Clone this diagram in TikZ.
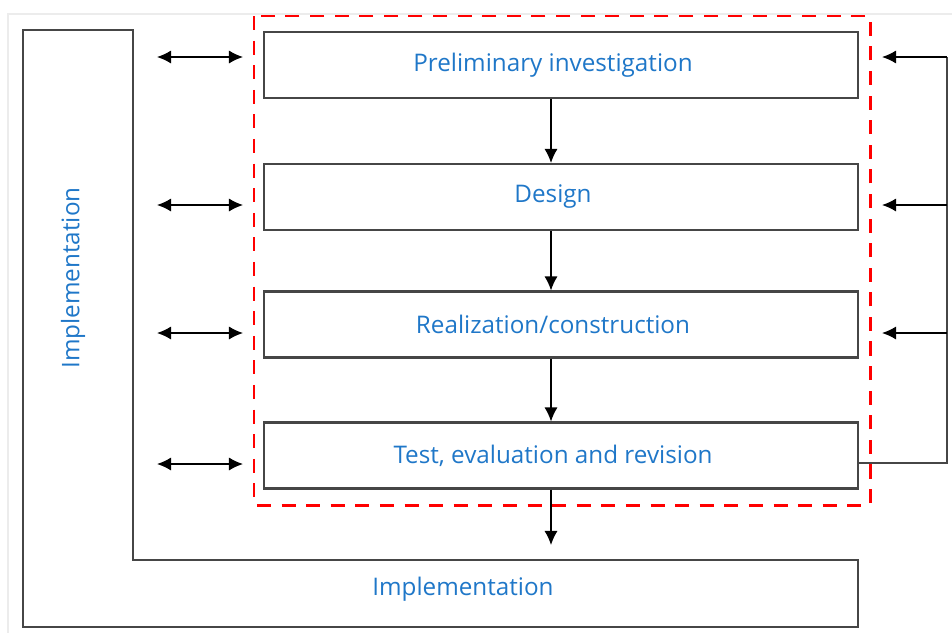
\documentclass[tikz,border=0pt]{standalone}
\usepackage{fontspec}
\setmainfont{Open Sans}
\usetikzlibrary{arrows.meta}
\definecolor{azul}{RGB}{31,119,200}
\definecolor{cinza}{RGB}{70,70,70}
\begin{document}
\begin{tikzpicture}[x=0.02cm, y=-0.02cm,
        etapa/.style={draw=cinza, line width=1.2pt, minimum width=11.88cm,
                      minimum height=1.32cm, inner sep=0pt, text=azul,
                      font=\fontsize{13.8}{16}\selectfont},
        rotulo/.style={text=azul, font=\fontsize{13.8}{16}\selectfont, inner sep=0pt},
        seta/.style={line width=0.8pt, -{Latex[length=8pt,width=7.5pt]}},
        dupla/.style={line width=0.8pt, {Latex[length=8pt,width=7.5pt]}-{Latex[length=8pt,width=7.5pt]}},
        tracejado/.style={draw=red, line width=1.7pt, dash pattern=on 8pt off 6pt},
    ]
    \useasboundingbox (0,0) rectangle (952,633);
    % moldura clara
    \draw[gray!15, line width=0.8pt] (8,633) -- (8,14) -- (952,14);
    % bloco em L da implementacao
    \draw[cinza, line width=1.2pt] (23,30) -- (133,30) -- (133,560) -- (858,560)
        -- (858,627) -- (23,627) -- cycle;
    \node[rotulo, rotate=90] (implv) at (73,278) {Implementation};
    \node[rotulo] (implh) at (463,589) {Implementation};
    % etapas
    \node[etapa] (t1) at (561,65)    {Preliminary investigation\hspace*{0.32cm}};
    \node[etapa] (t2) at (561,197)   {Design\hspace*{0.32cm}};
    \node[etapa] (t3) at (561,324.5) {Realization/construction\hspace*{0.32cm}};
    \node[etapa] (t4) at (561,455.5) {Test, evaluation and revision\hspace*{0.32cm}};
    % contorno tracejado
    \draw[tracejado] (254,16) rectangle (870,505);
    % setas para baixo
    \coordinate (eixo) at (551,0);
    \coordinate (fim)  at (551,545);
    \draw[seta] (t1.south -| eixo) -- (t2.north -| eixo);
    \draw[seta] (t2.south -| eixo) -- (t3.north -| eixo);
    \draw[seta] (t3.south -| eixo) -- (t4.north -| eixo);
    \draw[seta] (t4.south -| eixo) -- (fim);
    % setas duplas a esquerda
    \foreach \y [count=\i] in {57,205,333,464} {
        \coordinate (la\i) at (157,\y);
        \coordinate (lb\i) at (243,\y);
        \draw[dupla] (la\i) -- (lb\i);
    }
    % retorno a direita
    \foreach \y [count=\i] in {57,205,333,463} {
        \coordinate (rd\i) at (947,\y);
        \coordinate (re\i) at (882,\y);
    }
    \draw[cinza, line width=0.8pt] (t4.east |- rd4) -- (rd4) -- (rd1);
    \foreach \i in {1,2,3}
        \draw[seta] (rd\i) -- (re\i);
\end{tikzpicture}
\end{document}
